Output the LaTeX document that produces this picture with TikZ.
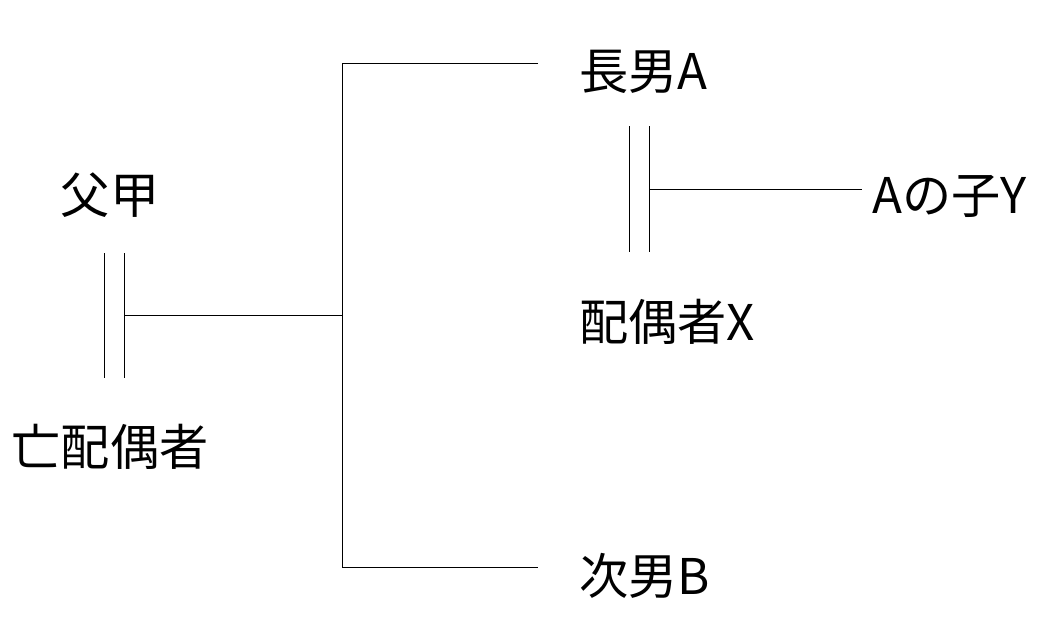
\documentclass[tikz,border=0pt]{standalone}
\usepackage{fontspec}
\setmainfont{Noto Sans CJK JP}
\begin{document}
\begin{tikzpicture}[x=0.02cm,y=-0.02cm, every node/.style={font=\fontsize{28}{32}\selectfont, inner sep=0pt}]
		\useasboundingbox (0,0) rectangle (1061,625);
		% Persons
		\node (father) at (110,195) {父甲};
		\node (lwife) at (110,447) {亡配偶者};
		\node[anchor=west] (sonA) at (579,72) {長男A};
		\node[anchor=west] (spouseX) at (579,322) {配偶者X};
		\node[anchor=west] (sonB) at (579,576) {次男B};
		\node[anchor=west] (childY) at (872,196) {Aの子Y};
		% Marriage of the parents
		\coordinate (m1a) at (104,253); \coordinate (m1b) at (104,378);
		\coordinate (m2a) at (124,253); \coordinate (m2b) at (124,378);
		\draw (m1a) -- (m1b); \draw (m2a) -- (m2b);
		\coordinate (mid) at (124,315); \coordinate (fork) at (342,315);
		\coordinate (top) at (342,63); \coordinate (bot) at (342,567);
		\coordinate (toA) at (538,63); \coordinate (toB) at (538,567);
		\draw (mid) -- (fork);
		\draw (toA) -- (top) -- (bot) -- (toB);
		% Marriage of A
		\coordinate (n1a) at (629,126); \coordinate (n1b) at (629,252);
		\coordinate (n2a) at (649,126); \coordinate (n2b) at (649,252);
		\draw (n1a) -- (n1b); \draw (n2a) -- (n2b);
		\coordinate (mid2) at (649,189); \coordinate (toY) at (862,189);
		\draw (mid2) -- (toY);
\end{tikzpicture}
\end{document}
